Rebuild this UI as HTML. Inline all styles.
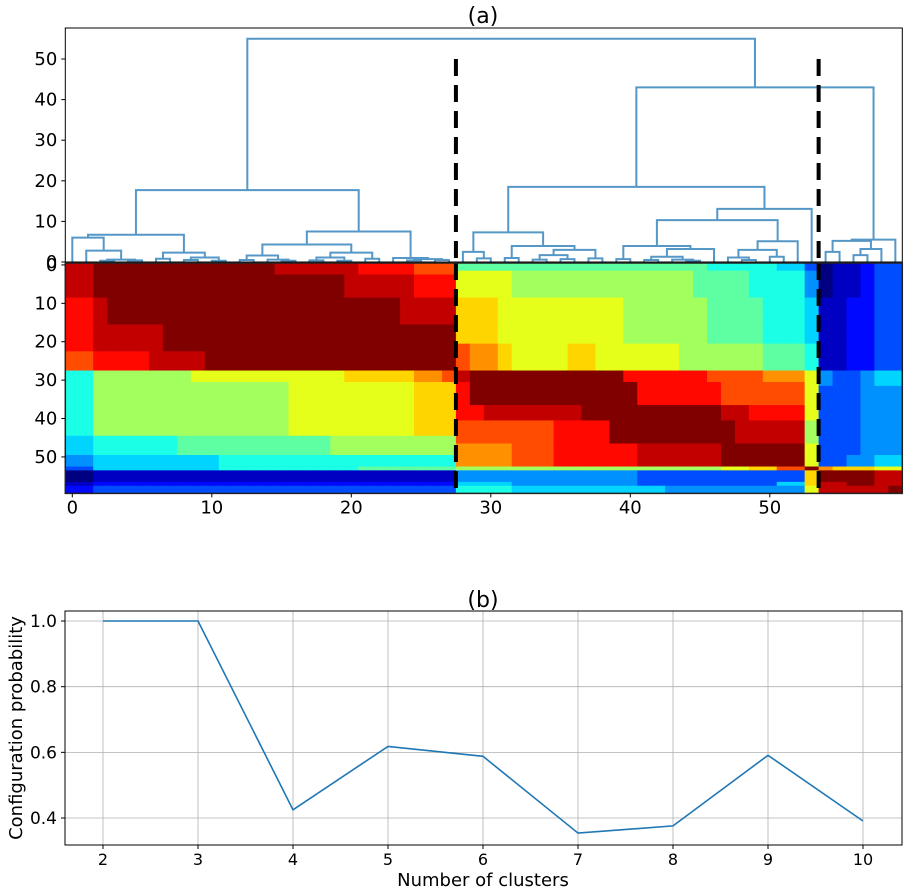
<!DOCTYPE html>
<html><head><meta charset="utf-8"><style>
html,body{margin:0;padding:0;background:#fff;}
svg{display:block;font-family:"DejaVu Sans","Liberation Sans",sans-serif;}
</style></head><body>
<svg id="fig" width="909" height="895" viewBox="0 0 909 895" xmlns="http://www.w3.org/2000/svg">
<rect width="909" height="895" fill="#fff"/>
<text x="483" y="23" font-size="22" text-anchor="middle">(a)</text>
<g id="dendro"></g>
<g id="heat"></g>
<text x="483" y="607" font-size="22" text-anchor="middle">(b)</text>
<g id="line"></g>
<text x="483" y="886" font-size="18" text-anchor="middle">Number of clusters</text>
<text x="22" y="728" font-size="18" text-anchor="middle" transform="rotate(-90 22 728)">Configuration probability</text>
</svg>
<script>
// ---------- data ----------
const dendroTree = [55,
  [17.7,
    [6.7, [6.0, 0, [2.8, 1, [0.6, [0.3,2,3], [0.4,4,5]]]],
          [2.3, [0.8,6,7], [1.1, [0.5,8,9], [0.3,10,11]]]],
    [7.5, [4.3, [1.6, [0.5,12,13], [0.6,14,[0.3,15,16]]],
                [2.3, [1.1,[0.4,17,18],[0.3,19,20]], [0.8,21,22]]],
          [1.0, 23, [0.7, [0.4,24,25], [0.5,26,27]]]]],
  [43,
    [18.5,
      [7.3, [2.5, 28, [0.9,29,30]],
            [3.95, [1.0,31,32], [3.0, [1.7,[0.6,33,34],[0.7,35,36]], [0.9,37,38]]]],
      [13.1,
        [10.3,
          [3.95, [0.7,39,40], [3.2, [1.3,[0.5,41,42],[0.6,43,[0.3,44,45]]], 46]],
          [5.1, [3.0, [1.1,47,[0.5,48,49]], [1.3,50,51]], 52]],
        53]],
    [5.5, [5.2, [2.5,54,55], [3.2,[1.7,56,57],58]], 59]]];

const dendroTicks = [0,10,20,30,40,50];
const clusterCuts = [27.5, 53.5];
const heatTicksX = [0,10,20,30,40,50];
const heatTicksY = [0,10,20,30,40,50];

// heatmap rows: [repeat count, 60 hex levels (0=low .. f=high)]
const heatRows = [
 [2, "ee"+"fffffffffffff"+"eeeeee"+"dddd"+"ccc" + "777777777777777777"+"66666"+"55"+"3" + "011233"],
 [1, "ee"+"fffffffffffff"+"eeeeee"+"dddd"+"ccc" + "9999"+"8888888888888"+"7777"+"6666"+"4" + "011233"],
 [6, "ee"+"ffffffffffffffffff"+"eeeee"+"ddd" + "9999"+"8888888888888"+"7777"+"6666"+"4" + "011233"],
 [7, "dde"+"fffffffffffffffffffff"+"eeee" + "aaa"+"999999999"+"888888"+"7777"+"666"+"5" + "112233"],
 [5, "ddeeeee"+"fffffffffffffffffffff" + "aaa"+"999999999"+"888888"+"7777"+"666"+"5" + "112233"],
 [2, "ddeeeee"+"fffffffffffffffffffff" + "cbb"+"a"+"9999"+"aa"+"999999"+"888888"+"777"+"6" + "112233"],
 [5, "ccdddd"+"eeee"+"ffffffffffffffffff" + "cbb"+"a"+"9999"+"aa"+"999999"+"888888"+"777"+"6" + "112233"],
 [3, "66"+"8888888"+"99999999999"+"aaaaa"+"bbc" + "e"+"fffffffffff"+"dddddd"+"cccc"+"bbb"+"9" + "433455"],
 [1, "66"+"88888888888888"+"999999999"+"aaa" + "d"+"ffffffffffff"+"dddddd"+"cccccc"+"9" + "433455"],
 [5, "66"+"88888888888888"+"999999999"+"aaa" + "d"+"ffffffffffff"+"dddddd"+"cccccc"+"9" + "333444"],
 [4, "66"+"88888888888888"+"999999999"+"aaa" + "dd"+"eeeeeee"+"ffffffffff"+"eedddd"+"9" + "333444"],
 [4, "66"+"88888888888888"+"999999999"+"aaa" + "ccccccc"+"dddd"+"fffffffff"+"eeeee"+"8" + "333444"],
 [2, "55"+"666666"+"77777777777"+"888888888" + "ccccccc"+"dddd"+"fffffffff"+"eeeee"+"8" + "333444"],
 [3, "55"+"666666"+"77777777777"+"888888888" + "bbbbccc"+"dddddd"+"eeeeee"+"ffffff"+"9" + "333444"],
 [3, "44"+"555555555"+"66666666666666666" + "bbbbccc"+"dddddd"+"eeeeee"+"ffffff"+"9" + "334455"],
 [1, "33"+"555555555"+"6666666666"+"7777777" + "8888888888888888888"+"99a"+"acc"+"f" + "baaa99"],
 [3, "00"+"11111111111111111111111111" + "4444444444444"+"333333333333"+"a" + "ffffee"],
 [1, "11"+"22222222222222222222222222" + "5555"+"444444444"+"3333333333"+"55"+"a" + "eeffee"],
 [2, "22"+"33333333333333333333333333" + "6666"+"55555555555"+"4444444444"+"9" + "eeeeef"]
];

const clusterCounts = [2,3,4,5,6,7,8,9,10];
const probValues = [1.0,1.0,0.425,0.618,0.588,0.354,0.376,0.591,0.391];
const lineTicksX = [2,3,4,5,6,7,8,9,10];
const lineTicksY = [0.4,0.6,0.8,1.0];
const lineTickLabelsY = ["0.4","0.6","0.8","1.0"];

// ---------- helpers ----------
const NS = "http://www.w3.org/2000/svg";
function mk(tag, attrs, parent){
  const e = document.createElementNS(NS, tag);
  for (const k in attrs) e.setAttribute(k, attrs[k]);
  parent.appendChild(e);
  return e;
}
function jet(x){
  const c = v => Math.max(0, Math.min(1, v));
  const r = c(1.5 - Math.abs(4*x - 3)), g = c(1.5 - Math.abs(4*x - 2)), b = c(1.5 - Math.abs(4*x - 1));
  return "rgb(" + Math.round(r*255) + "," + Math.round(g*255) + "," + Math.round(b*255) + ")";
}
const colX = i => 72.3 + 13.95 * i;          // column/leaf center
const HX0 = 65.3, HX1 = 902.3;
const dY = h => 262 - h * 4.06;
const rowY = r => 263 + 3.84 * r;            // top of row r
const HY0 = 263, HY1 = 263 + 3.84 * 60;

// ---------- dendrogram ----------
const dg = document.getElementById("dendro");
const dlines = mk("g", {fill:"none", stroke:"#5597c6", "stroke-width":"2"}, dg);


function drawNode(n){
  if (typeof n === "number") return {x: n, h: 0};
  const L = drawNode(n[1]), R = drawNode(n[2]);
  const p = mk("path", {d: "M"+colX(L.x)+","+dY(L.h)+"V"+dY(n[0])+"H"+colX(R.x)+"V"+dY(R.h)}, dlines);
  
  
  return {x: (L.x + R.x) / 2, h: n[0]};
}
drawNode(dendroTree);
clusterCuts.forEach(c => {
  const l = mk("line", {x1: colX(c), x2: colX(c), y1: dY(50), y2: dY(0), stroke:"#000", "stroke-width":"4", "stroke-dasharray":"17,9"}, dg);
  
  
});
const dframe = mk("rect", {x: HX0, y: 28, width: HX1-HX0, height: 262-28, fill:"none", stroke:"#000", "stroke-width":"1"}, dg);


dendroTicks.forEach(t => {
  mk("line", {x1: HX0-4, x2: HX0, y1: dY(t), y2: dY(t), stroke:"#000"}, dg);
  const tx = mk("text", {x: HX0-8, y: dY(t)+6, "font-size":"18", "text-anchor":"end"}, dg);
  tx.textContent = t;
  
  
});

// ---------- heatmap ----------
const hg = document.getElementById("heat");
let r = 0;
heatRows.forEach(([cnt, s]) => {
  for (let k = 0; k < cnt; k++, r++){
    for (let c = 0; c < 60; c++){
      const ch = s[c] || s[s.length-1];
      const v = parseInt(ch, 16) / 15;
      const cell = mk("rect", {x: (HX0 + 13.95*c).toFixed(2), y: rowY(r).toFixed(2), width: "14.5", height: "4.3", fill: jet(v)}, hg);
      
      
    }
  }
});
clusterCuts.forEach(c => {
  const l = mk("line", {x1: colX(c), x2: colX(c), y1: HY0, y2: HY1, stroke:"#000", "stroke-width":"4", "stroke-dasharray":"17,9"}, hg);
  
  
});
const hframe = mk("rect", {x: HX0, y: HY0, width: HX1-HX0, height: HY1-HY0, fill:"none", stroke:"#222", "stroke-width":"1.5"}, hg);


heatTicksX.forEach(t => {
  mk("line", {x1: colX(t), x2: colX(t), y1: HY1, y2: HY1+4, stroke:"#000"}, hg);
  const tx = mk("text", {x: colX(t), y: HY1+20, "font-size":"18", "text-anchor":"middle"}, hg);
  tx.textContent = t;
  
  
});
heatTicksY.forEach(t => {
  const y = rowY(t) + 1.92;
  mk("line", {x1: HX0-4, x2: HX0, y1: y, y2: y, stroke:"#000"}, hg);
  const tx = mk("text", {x: HX0-8, y: y+6, "font-size":"18", "text-anchor":"end"}, hg);
  tx.textContent = t;
  
  
});

// ---------- line chart ----------
const lg = document.getElementById("line");
const LX0 = 65, LX1 = 902, LY0 = 611, LY1 = 845;
const lx = v => 103 + 95 * (v - 2);
const ly = v => 818 - 328.3 * (v - 0.4);
lineTicksX.forEach(t => {
  mk("line", {x1: lx(t), x2: lx(t), y1: LY0, y2: LY1, stroke:"#b0b0b0", "stroke-width":"0.8"}, lg);
  mk("line", {x1: lx(t), x2: lx(t), y1: LY1, y2: LY1+4, stroke:"#000"}, lg);
  const tx = mk("text", {x: lx(t), y: LY1+20, "font-size":"16", "text-anchor":"middle"}, lg);
  tx.textContent = t;
  
  
});
lineTicksY.forEach((t, i) => {
  mk("line", {x1: LX0, x2: LX1, y1: ly(t), y2: ly(t), stroke:"#b0b0b0", "stroke-width":"0.8"}, lg);
  mk("line", {x1: LX0-4, x2: LX0, y1: ly(t), y2: ly(t), stroke:"#000"}, lg);
  const tx = mk("text", {x: LX0-8, y: ly(t)+6, "font-size":"17", "text-anchor":"end"}, lg);
  tx.textContent = lineTickLabelsY[i];
  
  
});
const pts = clusterCounts.map((k, i) => lx(k).toFixed(1) + "," + ly(probValues[i]).toFixed(1)).join(" ");
const pl = mk("polyline", {points: pts, fill:"none", stroke:"#1f77b4", "stroke-width":"1.6"}, lg);


const lframe = mk("rect", {x: LX0, y: LY0, width: LX1-LX0, height: LY1-LY0, fill:"none", stroke:"#000", "stroke-width":"1"}, lg);


</script>
</body></html>
